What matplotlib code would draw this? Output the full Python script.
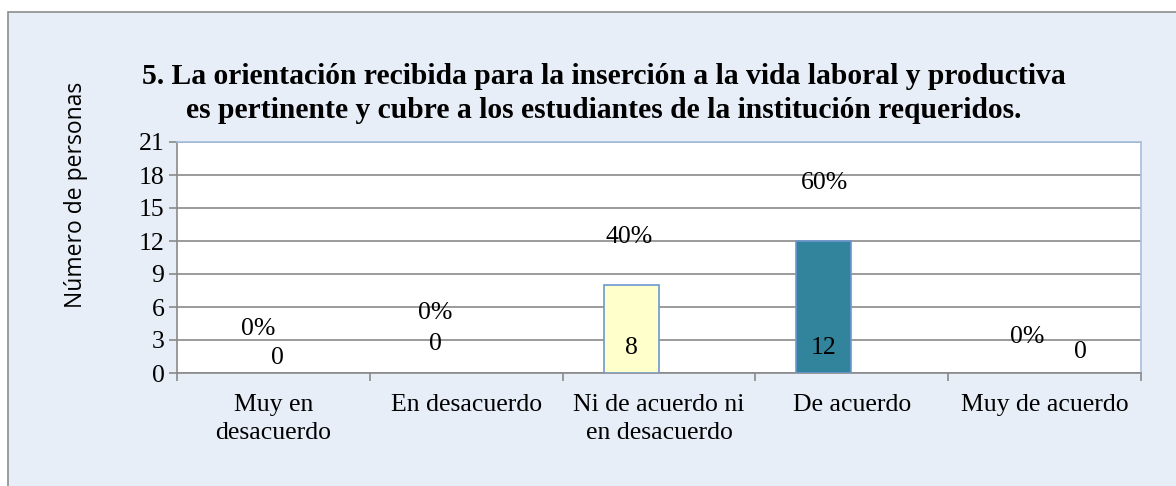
import matplotlib
matplotlib.use("Agg")
import matplotlib.pyplot as plt
from matplotlib.patches import Rectangle

categories = ["Muy en\ndesacuerdo", "En desacuerdo", "Ni de acuerdo ni\nen desacuerdo", "De acuerdo", "Muy de acuerdo"]
counts = [0, 0, 8, 12, 0]
percents = ["0%", "0%", "40%", "60%", "0%"]
bar_colors = ["#FFFFCC", "#FFFFCC", "#FFFFCC", "#31849B", "#FFFFCC"]
yticks = [0, 3, 6, 9, 12, 15, 18, 21]

# label placement (style): (x, y) in data coordinates
count_label_pos = [(0.02, 1.36), (0.84, 2.64), (1.855, 2.27), (2.856, 2.27), (4.184, 1.9)]
pct_label_pos = [(-0.08, 4.0), (0.84, 5.45), (1.845, 12.36), (2.856, 17.27), (3.909, 3.27)]

W, H = 1176, 486
fig = plt.figure(figsize=(W / 100, H / 100), dpi=100)
fig.patch.set_facecolor("white")

# outer chart frame as background axes
bg = fig.add_axes([0, 0, 1, 1], zorder=-10)
bg.set_xlim(0, W)
bg.set_ylim(H, 0)
bg.axis("off")
bg.add_patch(Rectangle((8, 12), W + 20, H + 20, facecolor="#E8EEF7", edgecolor="#8C8C8C", linewidth=1.2))

ax = fig.add_axes([177 / W, 1 - 373 / H, (1141 - 177) / W, (373 - 142) / H], zorder=1)
ax.set_facecolor("white")

serif = "Liberation Serif"
FS = 18.5
x = list(range(len(categories)))
bar_x = [i - 0.145 for i in x]
edges = ["#6C97CF" if c > 0 else "none" for c in counts]
ax.bar(bar_x, counts, width=0.285, color=bar_colors, edgecolor=edges, linewidth=1.2, zorder=3)

ax.set_xlim(-0.5, len(categories) - 0.5)
ax.set_ylim(0, 21)
ax.set_yticks(yticks)
ax.set_yticklabels([str(t) for t in yticks], fontfamily=serif, fontsize=FS)
ax.yaxis.grid(True, color="#8A8A8A", linewidth=1.2, zorder=1)
ax.set_axisbelow(True)

# x ticks at category boundaries, labels at centers
ax.set_xticks([i - 0.5 for i in range(len(categories) + 1)])
ax.set_xticklabels([""] * (len(categories) + 1))
ax.set_xticks(x, minor=True)
ax.set_xticklabels(categories, minor=True, fontfamily=serif, fontsize=FS, linespacing=1.35)
ax.tick_params(axis="x", which="minor", length=0, pad=15)
ax.tick_params(axis="x", which="major", length=6, color="#8A8A8A", width=1.2)
ax.tick_params(axis="y", length=6, color="#8A8A8A", width=1.2, pad=3)

for side in ["top", "right"]:
    ax.spines[side].set_color("#A7BEDE")
    ax.spines[side].set_linewidth(1.2)
for side in ["left", "bottom"]:
    ax.spines[side].set_color("#8A8A8A")
    ax.spines[side].set_linewidth(1.2)

for i in range(len(categories)):
    cx, cy = count_label_pos[i]
    ax.text(cx, cy, str(counts[i]), ha="center", va="center", fontfamily=serif, fontsize=FS, zorder=5)
    px, py = pct_label_pos[i]
    ax.text(px, py, percents[i], ha="center", va="center", fontfamily=serif, fontsize=FS, zorder=5)

fig.text(76 / W, 1 - 195 / H, "Número de personas", rotation=90, ha="center", va="center",
         fontfamily="Open Sans", fontsize=16.5)

fig.text(604 / W, 1 - 77 / H, "5. La orientación recibida para la inserción a la vida laboral y productiva",
         ha="center", va="center", fontfamily=serif, fontweight="bold", fontsize=21.3)
fig.text(604 / W, 1 - 110 / H, "es pertinente y cubre a los estudiantes de la institución requeridos.",
         ha="center", va="center", fontfamily=serif, fontweight="bold", fontsize=21.3)

fig.savefig("out.png", dpi=100)
